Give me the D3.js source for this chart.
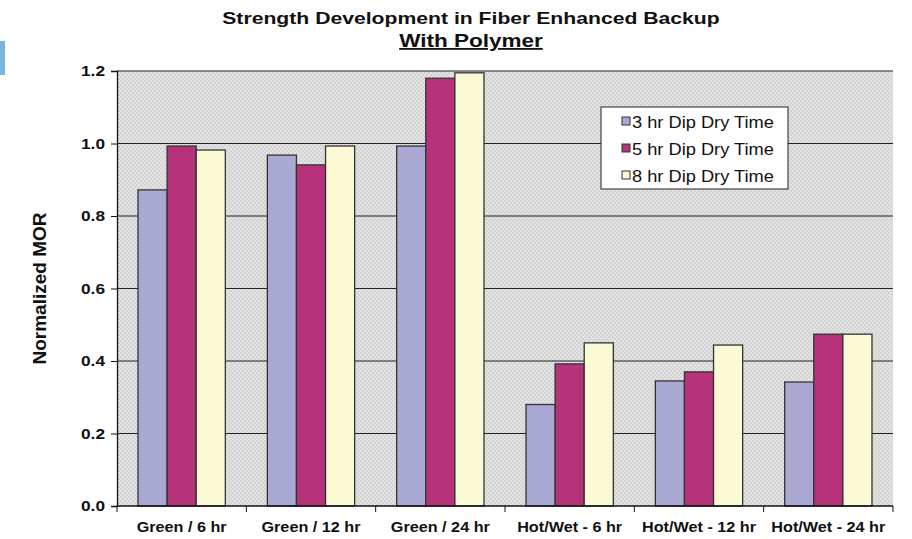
<!DOCTYPE html>
<html>
<head>
<meta charset="utf-8">
<script src="https://cdn.jsdelivr.net/npm/d3@7"></script>
<style>
  body { margin: 0; background: #fff; }
  text { font-family: "Liberation Sans", Arial, sans-serif; }
</style>
</head>
<body>
<div id="chart"></div>
<script>
// categories and series
var categories = ["Green / 6 hr", "Green / 12 hr", "Green / 24 hr", "Hot/Wet - 6 hr", "Hot/Wet - 12 hr", "Hot/Wet - 24 hr"];
var seriesNames = ["3 hr Dip Dry Time", "5 hr Dip Dry Time", "8 hr Dip Dry Time"];
var dip3 = [0.872, 0.968, 0.993, 0.280, 0.345, 0.342];
var dip5 = [0.993, 0.941, 1.180, 0.392, 0.370, 0.474];
var dip8 = [0.982, 0.993, 1.195, 0.450, 0.444, 0.474];
var yTicks = [0.0, 0.2, 0.4, 0.6, 0.8, 1.0, 1.2];
var colors = ["#a9a9d4", "#b6327a", "#fcfad4"];

var W = 912, H = 539;
var margin = {left: 117, right: 19, top: 71, bottom: 33};

var svg = d3.select("#chart").append("svg").attr("width", W).attr("height", H);

// the original text is drawn a bit wide, so stretch it horizontally
function stretch(sel, f) {
  sel.each(function(){
    var len = this.getComputedTextLength();
    d3.select(this).attr("textLength", len * f).attr("lengthAdjust", "spacingAndGlyphs");
  });
}

// hatched grey background like the original
var defs = svg.append("defs");
var pat = defs.append("pattern").attr("id", "hatch").attr("width", 4).attr("height", 4)
  .attr("patternUnits", "userSpaceOnUse");
pat.append("rect").attr("width", 4).attr("height", 4).attr("fill", "#e4e4e4");
pat.append("rect").attr("width", 2).attr("height", 2).attr("fill", "#d2d2d2");
pat.append("rect").attr("x", 2).attr("y", 2).attr("width", 2).attr("height", 2).attr("fill", "#d2d2d2");

var x0 = d3.scaleBand().domain(categories)
  .range([margin.left, W - margin.right]).paddingInner(0.325).paddingOuter(0.1625);
var x1 = d3.scaleBand().domain(seriesNames).range([0, x0.bandwidth()]);
var y = d3.scaleLinear().domain([0, 1.2]).range([H - margin.bottom, margin.top]);

svg.append("rect")
  .attr("x", margin.left).attr("y", margin.top)
  .attr("width", W - margin.left - margin.right).attr("height", H - margin.top - margin.bottom)
  .attr("fill", "url(#hatch)");

// gridlines
svg.append("g").selectAll("line").data(yTicks.slice(1)).enter().append("line")
  .attr("x1", margin.left).attr("x2", W - margin.right)
  .attr("y1", function(d){return y(d)}).attr("y2", function(d){return y(d)})
  .attr("stroke", "#222").attr("stroke-width", 1);

// bars
var series = [dip3, dip5, dip8];
var rows = categories.map(function(c, i){
  return seriesNames.map(function(s, j){ return {cat: c, name: s, value: series[j][i], k: j}; });
});
svg.append("g").selectAll("g").data(rows).enter().append("g")
  .attr("transform", function(d){ return "translate(" + x0(d[0].cat) + ",0)"; })
  .selectAll("rect").data(function(d){return d}).enter().append("rect")
  .attr("x", function(d){return x1(d.name)})
  .attr("y", function(d){return y(d.value)})
  .attr("width", x1.bandwidth())
  .attr("height", function(d){return y(0) - y(d.value)})
  .attr("fill", function(d){return colors[d.k]})
  .attr("stroke", "#333").attr("stroke-width", 1.3);

// y axis
var yAxis = svg.append("g").attr("transform", "translate(" + margin.left + ",0)")
  .call(d3.axisLeft(y).tickValues(yTicks).tickFormat(d3.format(".1f")).tickSize(6).tickPadding(6));
yAxis.select(".domain").attr("stroke", "#111").attr("stroke-width", 1.3);
yAxis.selectAll("line").attr("stroke", "#111");
yAxis.selectAll("text").attr("font-size", 15).attr("font-weight", "bold").attr("fill", "#111")
  .style("font-family", "'Liberation Sans', Arial, sans-serif");
stretch(yAxis.selectAll("text"), 1.15);

// x axis with ticks at the group boundaries
var bounds = categories.map(function(c){ return x0(c) - x0.step() * x0.paddingInner() / 2; });
bounds.push(W - margin.right);
svg.append("line").attr("x1", margin.left).attr("x2", W - margin.right)
  .attr("y1", y(0)).attr("y2", y(0)).attr("stroke", "#111").attr("stroke-width", 1.5);
svg.append("g").selectAll("line").data(bounds).enter().append("line")
  .attr("x1", function(d){return d}).attr("x2", function(d){return d})
  .attr("y1", y(0)).attr("y2", y(0) + 6).attr("stroke", "#111");
var xl = svg.append("g").selectAll("text").data(categories).enter().append("text")
  .attr("x", function(d){return x0(d) + x0.bandwidth() / 2})
  .attr("y", H - 7)
  .attr("text-anchor", "middle").attr("font-size", 15).attr("font-weight", "bold").attr("fill", "#111")
  .text(function(d){return d});
stretch(xl, 1.08);

// axis title
svg.append("text").attr("transform", "translate(46," + ((margin.top + H - margin.bottom) / 2) + ") rotate(-90)")
  .attr("text-anchor", "middle").attr("font-size", 19).attr("font-weight", "bold").attr("fill", "#111")
  .text("Normalized MOR");

// titles
var t1 = svg.append("text").attr("x", 471).attr("y", 24).attr("text-anchor", "middle")
  .attr("font-size", 17).attr("font-weight", "bold").attr("fill", "#111")
  .text("Strength Development in Fiber Enhanced Backup");
stretch(t1, 498 / 400);
var t2 = svg.append("text").attr("x", 471).attr("y", 47).attr("text-anchor", "middle")
  .attr("font-size", 18).attr("font-weight", "bold").attr("fill", "#111")
  .attr("text-decoration", "underline")
  .text("With Polymer");
stretch(t2, 1.25);

// little blue block at the left edge
svg.append("rect").attr("x", 0).attr("y", 41).attr("width", 5).attr("height", 34).attr("fill", "#7ab6dc");

// legend
var lg = svg.append("g").attr("transform", "translate(601,107)");
lg.append("rect").attr("width", 187).attr("height", 82).attr("fill", "#fff").attr("stroke", "#222");
var li = lg.selectAll("g").data(seriesNames).enter().append("g")
  .attr("transform", function(d, i){ return "translate(21," + (16 + i * 27) + ")"; });
li.append("rect").attr("x", 0).attr("y", -6).attr("width", 8).attr("height", 8)
  .attr("fill", function(d, i){return colors[i]}).attr("stroke", "#333");
var lt = li.append("text").attr("x", 10).attr("y", 5).attr("font-size", 16).attr("fill", "#111")
  .text(function(d){return d});
stretch(lt, 1.14);
</script>
</body>
</html>
